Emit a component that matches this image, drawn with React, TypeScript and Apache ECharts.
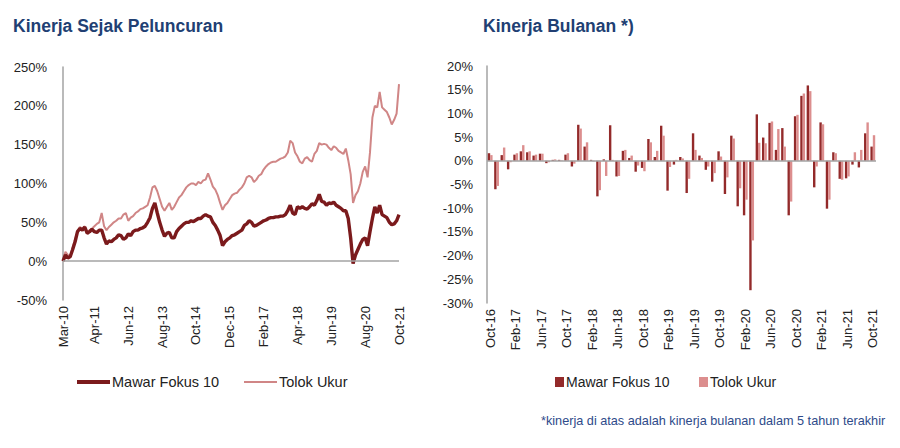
import React, { useEffect, useRef } from "react";
import * as echarts from "echarts";

const MONTHS = ["Jan", "Feb", "Mar", "Apr", "May", "Jun", "Jul", "Aug", "Sep", "Oct", "Nov", "Dec"];
function monthLabels(startYear: number, startMonth: number, count: number): string[] {
  const out: string[] = [];
  for (let i = 0; i < count; i++) {
    const t = startYear * 12 + startMonth + i;
    const y = Math.floor(t / 12);
    const m = t % 12;
    out.push(`${MONTHS[m]}-${String(y % 100).padStart(2, "0")}`);
  }
  return out;
}

// Left chart: cumulative performance since launch (monthly, Mar-10 .. Oct-21)
const lineCategories = monthLabels(2010, 2, 140);
const lineTickLabels = ["Mar-10", "Apr-11", "Jun-12", "Aug-13", "Oct-14", "Dec-15", "Feb-17", "Apr-18", "Jun-19", "Aug-20", "Oct-21"];

const mawarCum = [
  0, 8, 4, 6, 15, 25, 38, 42, 40, 44,
  36, 38, 41, 38, 37, 40, 40, 30, 22, 26,
  25, 28, 30, 34, 33, 28, 30, 35, 33, 38,
  40, 40, 42, 43, 45, 50, 56, 68, 75, 62,
  50, 40, 32, 36, 37, 30, 30, 38, 42, 45,
  48, 50, 50, 52, 51, 53, 55, 55, 58, 60,
  58, 57, 50, 46, 40, 33, 20, 25, 28, 30,
  33, 34, 36, 38, 40, 46, 48, 52, 50, 45,
  46, 48, 50, 52, 53, 55, 56, 56, 57, 57,
  58, 58, 60, 65, 72, 62, 60, 70, 68, 70,
  68, 67, 70, 74, 72, 78, 86, 77, 76, 72,
  75, 74, 76, 72, 70, 68, 65, 65, 55, 30,
  -3, 8, 15, 22, 28, 30, 20, 38, 55, 70,
  62, 72, 60, 58, 56, 50, 47, 48, 52, 60,
];

const tolokCum = [
  0, 12, 8, 5, 18, 28, 38, 44, 42, 45,
  35, 40, 42, 45, 48, 50, 62, 45, 40, 44,
  47, 50, 52, 55, 55, 60, 62, 52, 56, 58,
  62, 64, 67, 68, 70, 72, 82, 95, 97, 90,
  80, 70, 65, 70, 75, 66, 70, 76, 82, 85,
  90, 95, 98, 100, 100, 98, 102, 100, 104, 105,
  113, 105, 96, 92, 85, 75, 66, 72, 75, 80,
  85, 87, 88, 92, 95, 100, 108, 110, 108, 102,
  105, 110, 112, 118, 122, 125, 127, 128, 128, 130,
  132, 133, 135, 140, 155, 152, 140, 135, 128, 126,
  132, 134, 130, 128, 138, 142, 152, 150, 151, 150,
  146, 143, 148, 146, 142, 140, 138, 145, 130, 112,
  75, 85, 90, 100, 115, 122, 108, 140, 185, 200,
  198, 218, 198, 195, 192, 185, 176, 182, 190, 228,
];

// Right chart: monthly performance (Oct-16 .. Oct-21)
const barCategories = monthLabels(2016, 9, 61);

const mawarMonthly = [
  1.6, -6.0, 1.2, -1.8, 1.3, 2.0, 1.8, 1.1, 1.5, -0.5,
  0.2, 0.2, 1.3, -1.2, 7.6, 3.0, 0.2, -7.5, 0.3, 7.5,
  -3.3, 2.1, 0.6, -2.3, -1.5, 4.6, 0.8, 7.4, -6.3, -0.8,
  0.8, -6.8, 5.8, 1.1, -1.9, -4.4, 2.0, -7.0, 5.3, -9.6,
  -11.5, -27.3, 9.8, 4.9, 8.0, 2.3, 6.9, -11.5, 9.4, 13.7,
  15.9, -5.6, 8.1, -10.1, 1.8, -3.8, -3.7, -0.8, -1.4, 5.8,
  3.0,
];

const tolokMonthly = [
  1.2, -5.3, 2.8, -0.3, 1.6, 3.3, 2.0, 1.3, 1.5, -0.3,
  0.3, 0.1, 1.6, -0.6, 6.8, 3.9, -0.1, -6.2, -3.2, 0.2,
  -3.2, 2.3, 1.1, -1.0, -2.2, 3.9, 2.1, 5.3, -1.3, 0.2,
  0.5, -3.8, 2.3, 0.6, -1.2, -2.6, 0.9, -3.5, 4.7, -5.8,
  -8.2, -16.8, 3.8, 3.7, 8.3, 6.7, 3.0, -8.6, 9.7, 14.2,
  14.7, -1.2, 7.7, -8.2, 1.6, -4.0, -3.3, 1.8, 2.3, 8.1,
  5.4,
];

const SERIES_NAMES = ["Mawar Fokus 10", "Tolok Ukur"];
const TITLES = ["Kinerja Sejak Peluncuran", "Kinerja Bulanan *)"];
const FOOTNOTE = "*kinerja di atas adalah kinerja bulanan dalam 5 tahun terakhir";

const FONT = '"Liberation Sans", Arial, sans-serif';
const DARK_LINE = "#7B1A1C";
const LIGHT_LINE = "#D08686";
const DARK_BAR = "#932A2A";
const LIGHT_BAR = "#DC8E8E";
const AXIS_GREY = "#A3A3A3";
const TITLE_BLUE = "#213F73";

const zeroLine = {
  silent: true,
  symbol: ["none", "none"],
  label: { show: false },
  lineStyle: { color: AXIS_GREY, width: 1.5, type: "solid" },
  data: [{ yAxis: 0 }],
};

export default function App() {
  const ref = useRef<HTMLDivElement>(null);

  useEffect(() => {
    if (!ref.current) return;
    const chart = echarts.init(ref.current, null, { renderer: "svg" });

    const axisLabelBase = {
      rotate: 90,
      margin: 6,
      fontSize: 13,
      color: "#222",
      fontFamily: FONT,
    };

    const titleStyle = { fontSize: 17.5, fontWeight: "bold", color: TITLE_BLUE, fontFamily: FONT };

    const option = {
      animation: false,
      textStyle: { fontFamily: FONT },
      title: [
        { text: TITLES[0], left: 8, top: 12, textStyle: titleStyle },
        { text: TITLES[1], left: 478, top: 12, textStyle: titleStyle },
      ],
      grid: [
        { left: 63, top: 67, width: 336, height: 233 },
        { left: 487, top: 66, width: 389, height: 237 },
      ],
      xAxis: [
        {
          type: "category",
          gridIndex: 0,
          data: lineCategories,
          boundaryGap: false,
          axisLine: { show: false, onZero: false },
          axisTick: { show: false },
          axisLabel: {
            ...axisLabelBase,
            interval: (_i: number, v: string) => lineTickLabels.includes(v),
          },
        },
        {
          type: "category",
          gridIndex: 1,
          data: barCategories,
          boundaryGap: true,
          axisLine: { show: false, onZero: false },
          axisTick: { show: false },
          axisLabel: { ...axisLabelBase, interval: 3 },
        },
      ],
      yAxis: [
        {
          type: "value",
          gridIndex: 0,
          min: -50,
          max: 250,
          interval: 50,
          splitLine: { show: false },
          axisTick: { show: false },
          axisLine: { show: true, lineStyle: { color: AXIS_GREY, width: 1.5 } },
          axisLabel: { formatter: "{value}%", fontSize: 13, color: "#222", margin: 16, fontFamily: FONT },
        },
        {
          type: "value",
          gridIndex: 1,
          min: -30,
          max: 20,
          interval: 5,
          splitLine: { show: false },
          axisTick: { show: false },
          axisLine: { show: true, lineStyle: { color: AXIS_GREY, width: 1.5 } },
          axisLabel: { formatter: "{value}%", fontSize: 13, color: "#222", margin: 14, fontFamily: FONT },
        },
      ],
      series: [
        {
          type: "line",
          name: SERIES_NAMES[1],
          xAxisIndex: 0,
          yAxisIndex: 0,
          data: tolokCum,
          symbol: "none",
          lineStyle: { width: 2, color: LIGHT_LINE },
          itemStyle: { color: LIGHT_LINE },
          z: 2,
          markLine: zeroLine,
        },
        {
          type: "line",
          name: SERIES_NAMES[0],
          xAxisIndex: 0,
          yAxisIndex: 0,
          data: mawarCum,
          symbol: "none",
          lineStyle: { width: 3.4, color: DARK_LINE },
          itemStyle: { color: DARK_LINE },
          z: 3,
        },
        {
          type: "bar",
          name: SERIES_NAMES[0],
          xAxisIndex: 1,
          yAxisIndex: 1,
          data: mawarMonthly,
          itemStyle: { color: DARK_BAR },
          barGap: "0%",
          barCategoryGap: "25%",
          markLine: zeroLine,
        },
        {
          type: "bar",
          name: SERIES_NAMES[1],
          xAxisIndex: 1,
          yAxisIndex: 1,
          data: tolokMonthly,
          itemStyle: { color: LIGHT_BAR },
          barGap: "0%",
          barCategoryGap: "25%",
        },
      ],
      graphic: [
        { type: "line", shape: { x1: 77, y1: 382, x2: 110, y2: 382 }, style: { stroke: DARK_LINE, lineWidth: 4 } },
        {
          type: "text",
          x: 112,
          y: 382,
          style: { text: SERIES_NAMES[0], fontSize: 14.5, fontFamily: FONT, fill: "#222", verticalAlign: "middle", align: "left" },
        },
        { type: "line", shape: { x1: 244, y1: 382, x2: 277, y2: 382 }, style: { stroke: LIGHT_LINE, lineWidth: 2 } },
        {
          type: "text",
          x: 279,
          y: 382,
          style: { text: SERIES_NAMES[1], fontSize: 14.5, fontFamily: FONT, fill: "#222", verticalAlign: "middle", align: "left" },
        },
        { type: "rect", shape: { x: 555, y: 377, width: 9, height: 10 }, style: { fill: DARK_BAR } },
        {
          type: "text",
          x: 566,
          y: 382,
          style: { text: SERIES_NAMES[0], fontSize: 14, fontFamily: FONT, fill: "#222", verticalAlign: "middle", align: "left" },
        },
        { type: "rect", shape: { x: 699, y: 377, width: 9, height: 10 }, style: { fill: LIGHT_BAR } },
        {
          type: "text",
          x: 710,
          y: 382,
          style: { text: SERIES_NAMES[1], fontSize: 14, fontFamily: FONT, fill: "#222", verticalAlign: "middle", align: "left" },
        },
        {
          type: "text",
          x: 541,
          y: 421,
          style: { text: FOOTNOTE, fontSize: 12.7, fontFamily: FONT, fill: "#2E4B8A", verticalAlign: "middle", align: "left" },
        },
      ],
    };

    chart.setOption(option as any);
    return () => chart.dispose();
  }, []);

  return (
    <div
      ref={ref}
      style={{ position: "absolute", left: 0, top: 0, width: 900, height: 448, background: "#fff" }}
    />
  );
}
